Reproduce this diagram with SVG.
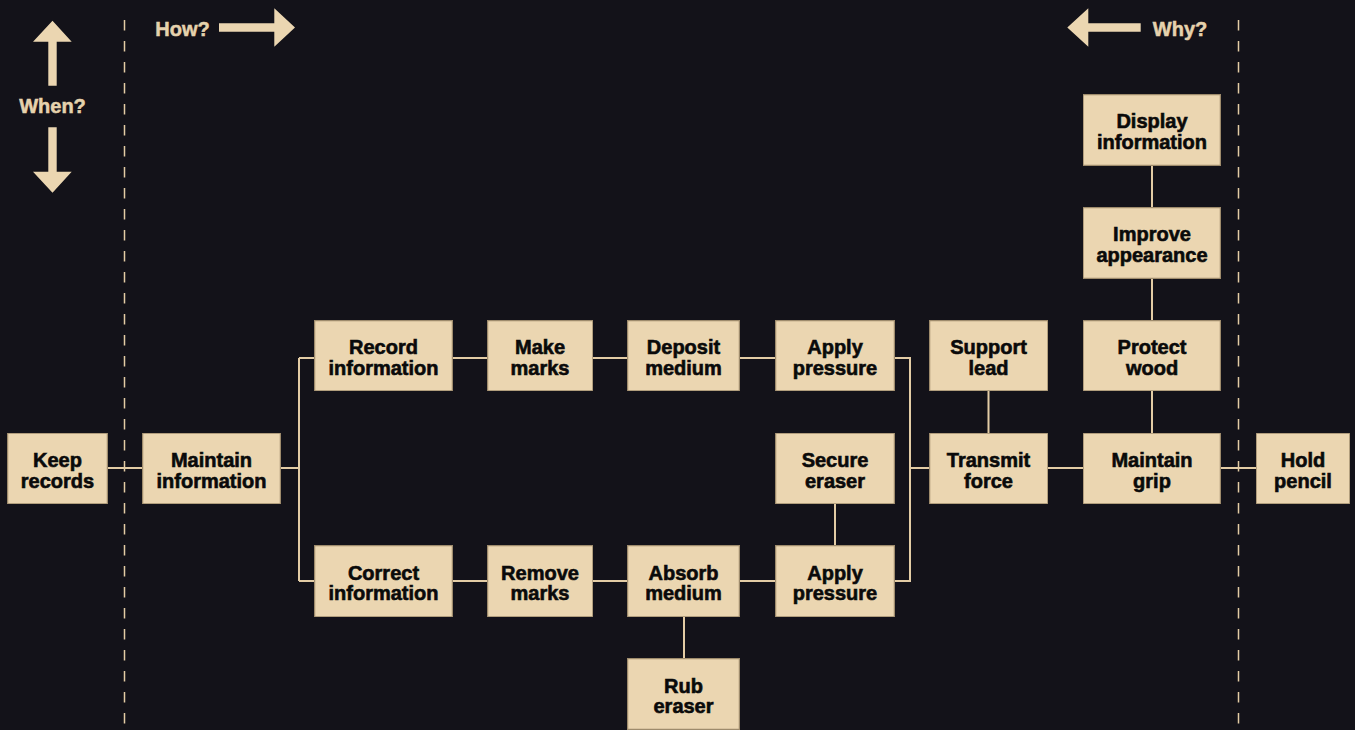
<svg xmlns="http://www.w3.org/2000/svg" width="1355" height="730" viewBox="0 0 1355 730">
<defs>
<filter id="inset" x="0" y="0" width="1" height="1">
<feFlood flood-color="#7d6847" flood-opacity="0.75"/>
<feComposite in2="SourceAlpha" operator="out"/>
<feGaussianBlur stdDeviation="3.5"/>
<feComposite in2="SourceAlpha" operator="in" result="sh"/>
<feMerge><feMergeNode in="SourceGraphic"/><feMergeNode in="sh"/></feMerge>
</filter>
</defs>
<style>
.box{fill:#ebd6b1;stroke:#9e8b6c;stroke-width:1.5;filter:url(#inset)}
.lbl{font-family:"Liberation Sans",Arial,sans-serif;font-weight:bold;font-size:20px;fill:#0a0a0a;stroke:#0a0a0a;stroke-width:0.6;text-anchor:middle}
.hint{font-family:"Liberation Sans",Arial,sans-serif;font-weight:bold;font-size:20px;fill:#e6d2ad;stroke:#e6d2ad;stroke-width:0.5;text-anchor:middle}
.con{stroke:#e3cca5;stroke-width:2;fill:none}
.dash{stroke:#e3cca5;stroke-width:1.5;stroke-dasharray:10.5 10.5;fill:none}
.arr{fill:#ebd6b1}
</style>
<rect width="1355" height="730" fill="#131219"/>

<g id="guides">
<path class="dash" d="M124.5 20V730M1238.5 20V730"/>
<polygon class="arr" points="52.5,20.7 71.7,41.7 56.7,41.7 56.7,85.7 48.3,85.7 48.3,41.7 33,41.7"/>
<polygon class="arr" points="52.5,192.7 71.7,171.7 56.7,171.7 56.7,127.3 48.3,127.3 48.3,171.7 33,171.7"/>
<text class="hint" x="52.5" y="113">When?</text>
<text class="hint" x="182.5" y="36">How?</text>
<polygon class="arr" points="295,27.5 274.3,8.3 274.3,23.3 219,23.3 219,31.7 274.3,31.7 274.3,46.7"/>
<text class="hint" x="1180" y="36">Why?</text>
<polygon class="arr" points="1067.3,27.5 1088.3,8.3 1088.3,23.3 1140.7,23.3 1140.7,31.7 1088.3,31.7 1088.3,46.7"/>
</g>

<g id="connectors">
<path class="con" d="M108 468H142M281 468H299M299 358V581M299 358H314M299 581H314"/>
<path class="con" d="M453 358H487M593 358H627M740 358H775M895 358H910V581H895M910 468H929"/>
<path class="con" d="M453 581H487M593 581H627M740 581H775M684 617V658M835 504V546"/>
<path class="con" d="M988.5 391V433M1048 468H1083M1152 433V391M1152 320V279M1152 207V166M1221 468H1256"/>
</g>

<g id="keep-records"><rect class="box" x="7.5" y="433" width="100" height="71"/><text class="lbl" x="57.5" y="467">Keep</text><text class="lbl" x="57.5" y="487.5">records</text></g>
<g id="maintain-information"><rect class="box" x="142.5" y="433" width="138" height="71"/><text class="lbl" x="211.5" y="467">Maintain</text><text class="lbl" x="211.5" y="487.5">information</text></g>
<g id="record-information"><rect class="box" x="314.5" y="320.5" width="138" height="70.5"/><text class="lbl" x="383.5" y="354">Record</text><text class="lbl" x="383.5" y="374.5">information</text></g>
<g id="make-marks"><rect class="box" x="487.5" y="320.5" width="105.5" height="70.5"/><text class="lbl" x="540" y="354">Make</text><text class="lbl" x="540" y="374.5">marks</text></g>
<g id="deposit-medium"><rect class="box" x="627.5" y="320.5" width="112" height="70.5"/><text class="lbl" x="683.5" y="354">Deposit</text><text class="lbl" x="683.5" y="374.5">medium</text></g>
<g id="apply-pressure-1"><rect class="box" x="775.5" y="320.5" width="119" height="70.5"/><text class="lbl" x="835" y="354">Apply</text><text class="lbl" x="835" y="374.5">pressure</text></g>
<g id="secure-eraser"><rect class="box" x="775.5" y="433" width="119" height="71"/><text class="lbl" x="835" y="467">Secure</text><text class="lbl" x="835" y="487.5">eraser</text></g>
<g id="correct-information"><rect class="box" x="314.5" y="545.5" width="138" height="71.5"/><text class="lbl" x="383.5" y="579.5">Correct</text><text class="lbl" x="383.5" y="600">information</text></g>
<g id="remove-marks"><rect class="box" x="487.5" y="545.5" width="105.5" height="71.5"/><text class="lbl" x="540" y="579.5">Remove</text><text class="lbl" x="540" y="600">marks</text></g>
<g id="absorb-medium"><rect class="box" x="627.5" y="545.5" width="112" height="71.5"/><text class="lbl" x="683.5" y="579.5">Absorb</text><text class="lbl" x="683.5" y="600">medium</text></g>
<g id="apply-pressure-2"><rect class="box" x="775.5" y="545.5" width="119" height="71.5"/><text class="lbl" x="835" y="579.5">Apply</text><text class="lbl" x="835" y="600">pressure</text></g>
<g id="rub-eraser"><rect class="box" x="627.5" y="658.5" width="112" height="71"/><text class="lbl" x="683.5" y="692.5">Rub</text><text class="lbl" x="683.5" y="713">eraser</text></g>
<g id="support-lead"><rect class="box" x="929.5" y="320.5" width="118.5" height="70.5"/><text class="lbl" x="988.5" y="354">Support</text><text class="lbl" x="988.5" y="374.5">lead</text></g>
<g id="transmit-force"><rect class="box" x="929.5" y="433" width="118.5" height="71"/><text class="lbl" x="988.5" y="467">Transmit</text><text class="lbl" x="988.5" y="487.5">force</text></g>
<g id="display-information"><rect class="box" x="1083" y="94.5" width="137.5" height="71"/><text class="lbl" x="1152" y="128">Display</text><text class="lbl" x="1152" y="148.5">information</text></g>
<g id="improve-appearance"><rect class="box" x="1083" y="207.5" width="137.5" height="71"/><text class="lbl" x="1152" y="241">Improve</text><text class="lbl" x="1152" y="261.5">appearance</text></g>
<g id="protect-wood"><rect class="box" x="1083" y="320.5" width="137.5" height="70.5"/><text class="lbl" x="1152" y="354">Protect</text><text class="lbl" x="1152" y="374.5">wood</text></g>
<g id="maintain-grip"><rect class="box" x="1083" y="433" width="137.5" height="71"/><text class="lbl" x="1152" y="467">Maintain</text><text class="lbl" x="1152" y="487.5">grip</text></g>
<g id="hold-pencil"><rect class="box" x="1256" y="433" width="94" height="71"/><text class="lbl" x="1303" y="467">Hold</text><text class="lbl" x="1303" y="487.5">pencil</text></g>
</svg>
